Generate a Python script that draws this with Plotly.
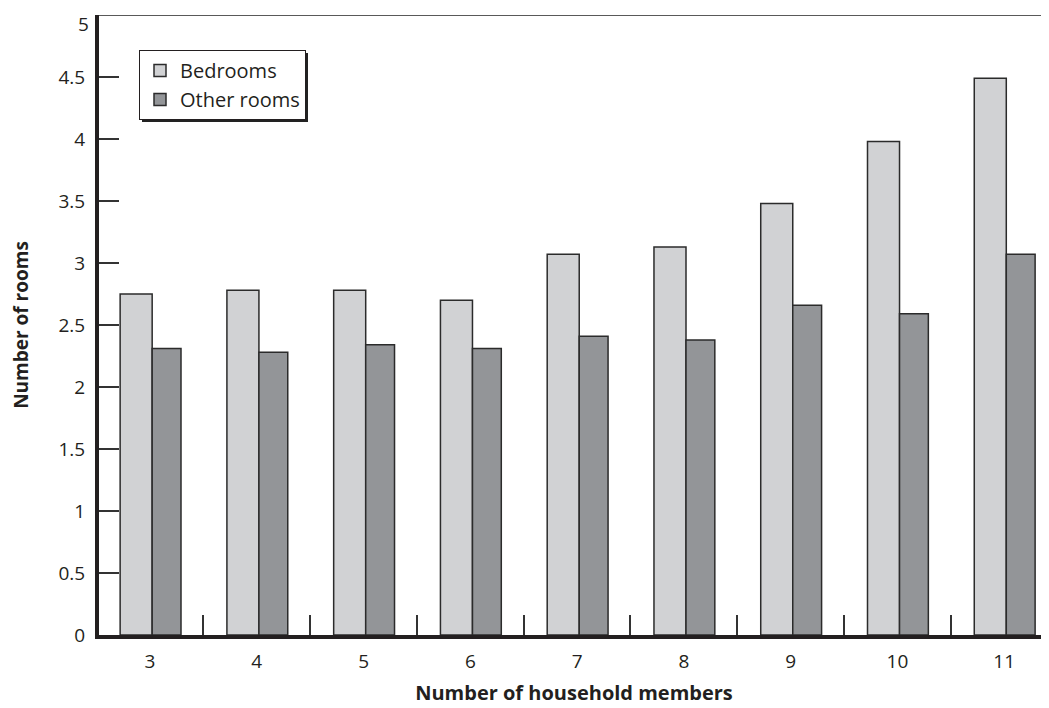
import plotly.graph_objects as go

categories = ["3", "4", "5", "6", "7", "8", "9", "10", "11"]
bedrooms = [2.75, 2.78, 2.78, 2.70, 3.07, 3.13, 3.48, 3.98, 4.49]
other_rooms = [2.31, 2.28, 2.34, 2.31, 2.41, 2.38, 2.66, 2.59, 3.07]
y_ticks = [0, 0.5, 1, 1.5, 2, 2.5, 3, 3.5, 4, 4.5, 5]
y_tick_labels = ["0", "0.5", "1", "1.5", "2", "2.5", "3", "3.5", "4", "4.5", "5"]

FONT = "Open Sans"
W, H = 1041, 700
ML, MR, MT, MB = 91, 0, 7, 73
PW, PH = W - ML - MR, H - MT - MB


def px_to_paper_x(px):
    return (px - 8 - ML) / PW


def px_to_paper_y(py):
    return (H - MB - (py - 8)) / PH


fig = go.Figure()
fig.add_trace(go.Bar(
    x=categories, y=bedrooms, name="Bedrooms", legendgroup="a",
    marker=dict(color="#d1d2d4", line=dict(color="#2b2b2b", width=1.5)),
    width=0.30, offset=-0.28,
))
fig.add_trace(go.Bar(
    x=categories, y=other_rooms, name="Other rooms", legendgroup="b",
    marker=dict(color="#939598", line=dict(color="#2b2b2b", width=1.5)),
    width=0.27, offset=0.02,
))

# legend shadow, offset 3px right/down from legend box
fig.add_shape(type="rect", xref="paper", yref="paper",
              x0=px_to_paper_x(142), x1=px_to_paper_x(308),
              y0=px_to_paper_y(122), y1=px_to_paper_y(53),
              fillcolor="#222222", line=dict(width=0), layer="above")
# top frame line
fig.add_shape(type="line", xref="paper", yref="y", x0=0, x1=1, y0=5, y1=5,
              line=dict(color="#222222", width=1.5))

# top tick label drawn as annotation so it stays inside the page
fig.add_annotation(text=y_tick_labels[-1], xref="paper", yref="y", x=0, y=y_ticks[-1],
                   xanchor="right", yanchor="top", xshift=-8, yshift=6,
                   showarrow=False, font=dict(size=19, family=FONT, color="#231f20"))

fig.update_layout(
    width=W, height=H,
    margin=dict(l=ML, r=MR, t=MT, b=MB, autoexpand=False),
    paper_bgcolor="white", plot_bgcolor="white",
    font=dict(family=FONT, size=19, color="#231f20"),
    barmode="overlay",
    legend=dict(x=px_to_paper_x(139), y=px_to_paper_y(50), xanchor="left", yanchor="top",
                bgcolor="white", bordercolor="#231f20", borderwidth=1,
                font=dict(size=20, family=FONT), tracegroupgap=0),
    xaxis=dict(
        type="category", range=[-0.478, 8.42], automargin=False,
        showline=True, linewidth=4, linecolor="#231f20",
        ticks="inside", tickson="boundaries", ticklen=20, tickwidth=1.5, tickcolor="#333",
        showgrid=False, zeroline=False,
        tickfont=dict(size=19),
        ticklabelstandoff=6,
        title=dict(text="<b>Number of household members</b>", font=dict(size=20), standoff=14),
    ),
    yaxis=dict(
        range=[0, 5], tickvals=y_ticks, ticktext=y_tick_labels[:-1] + [""], automargin=False,
        showline=True, linewidth=4, linecolor="#231f20",
        ticks="inside", ticklen=20, tickwidth=1.5, tickcolor="#333",
        showgrid=False, zeroline=False,
        tickfont=dict(size=19),
        ticklabelstandoff=6,
        title=dict(text="<b>Number of rooms</b>", font=dict(size=19), standoff=26),
    ),
)
fig.write_html("out.html")
